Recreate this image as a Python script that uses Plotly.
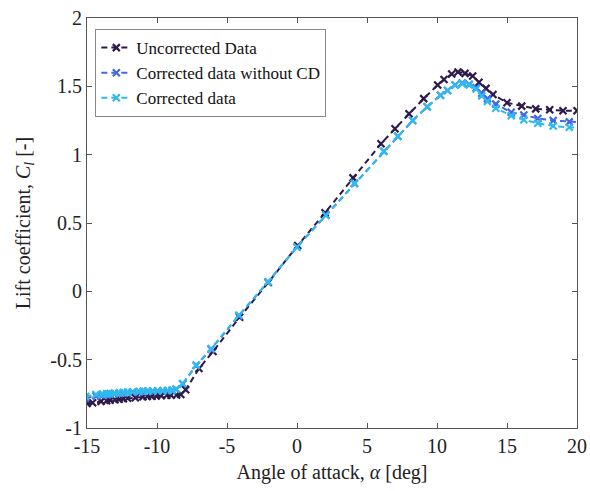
import plotly.graph_objects as go

# ---- data ----
alpha_uncorr = [-15.0, -14.6, -14.0, -13.6, -13.35, -13.0, -12.7, -12.4, -12.1, -11.55,
                -11.0, -10.7, -10.35, -10.05, -9.7, -9.3, -9.0, -8.6, -8.3, -7.95,
                -7.0, -6.0, -4.1, -2.05, 0.05, 2.0, 4.0, 6.0, 7.0, 8.0,
                9.05, 10.05, 10.5, 11.05, 11.5, 12.0, 12.55, 13.0, 13.5, 14.0,
                15.0, 16.05, 17.05, 18.05, 19.0, 20.0]
cl_uncorr = [-0.82, -0.815, -0.805, -0.80, -0.797, -0.793, -0.79, -0.785, -0.782, -0.778,
             -0.772, -0.77, -0.768, -0.765, -0.763, -0.761, -0.76, -0.758, -0.755, -0.72,
             -0.565, -0.44, -0.19, 0.065, 0.335, 0.575, 0.83, 1.08, 1.19, 1.30,
             1.41, 1.51, 1.55, 1.59, 1.605, 1.595, 1.575, 1.53, 1.485, 1.44,
             1.38, 1.355, 1.335, 1.328, 1.322, 1.322]

alpha_corr = [-15.1, -14.36, -13.88, -13.6, -13.36, -13.05, -12.7, -12.4, -12.1, -11.74,
              -11.26, -10.98, -10.66, -10.31, -9.95, -9.59, -9.24, -8.93, -8.64, -8.16,
              -7.2, -6.14, -4.15, -2.07, 0.0, 2.07, 4.1, 6.2, 7.2, 8.26,
              9.3, 10.25, 10.76, 11.3, 11.8, 12.3, 12.8, 13.2, 13.6, 14.2,
              15.3, 16.2, 17.2, 18.3, 19.45, 20.5]
cl_corr_nocd = [-0.78, -0.765, -0.76, -0.757, -0.754, -0.75, -0.747, -0.744, -0.741, -0.738,
                -0.735, -0.733, -0.732, -0.731, -0.73, -0.729, -0.728, -0.726, -0.717, -0.678,
                -0.543, -0.423, -0.178, 0.068, 0.325, 0.557, 0.79, 1.025, 1.135, 1.25,
                1.35, 1.435, 1.47, 1.51, 1.525, 1.515, 1.49, 1.45, 1.41, 1.37,
                1.31, 1.29, 1.265, 1.25, 1.24, 1.235]
cl_corr = [-0.77, -0.755, -0.752, -0.75, -0.748, -0.745, -0.742, -0.74, -0.738, -0.735,
           -0.733, -0.731, -0.73, -0.729, -0.728, -0.727, -0.726, -0.724, -0.715, -0.675,
           -0.54, -0.42, -0.175, 0.07, 0.325, 0.557, 0.79, 1.025, 1.135, 1.25,
           1.35, 1.435, 1.47, 1.51, 1.52, 1.51, 1.48, 1.43, 1.39, 1.34,
           1.285, 1.255, 1.23, 1.21, 1.20, 1.195]

x_ticks = [-15, -10, -5, 0, 5, 10, 15, 20]
y_ticks = [-1, -0.5, 0, 0.5, 1, 1.5, 2]
y_ticklabels = ["-1", "-0.5", "0", "0.5", "1", "1.5", "2"]

names = ["Uncorrected Data", "Corrected data without CD", "Corrected data"]
colors = ["#2e1a4a", "#4466e4", "#2fbaef"]

FONT = "Liberation Serif"
AX = "#555555"
TXT = "#222222"

fig = go.Figure()
for xs, ys, name, col in [(alpha_uncorr, cl_uncorr, names[0], colors[0]),
                          (alpha_corr, cl_corr_nocd, names[1], colors[1]),
                          (alpha_corr, cl_corr, names[2], colors[2])]:
    fig.add_trace(go.Scatter(
        x=xs, y=ys, name=name, mode="lines+markers",
        line=dict(color=col, width=2, dash="6px,4px"),
        marker=dict(symbol="x-thin", size=7, line=dict(color=col, width=2.2)),
    ))

axis_common = dict(
    showline=True, linecolor=AX, linewidth=1, mirror="ticks",
    ticks="inside", ticklen=5, tickcolor=AX, tickwidth=1,
    showgrid=False, zeroline=False, automargin=False,
    tickfont=dict(family=FONT, size=20, color=TXT),
)

fig.update_xaxes(range=[-15, 20], tickvals=x_ticks,
                 ticktext=[str(v) for v in x_ticks],
                 title=dict(text="Angle of attack, <i>α</i> [deg]",
                            font=dict(family=FONT, size=20, color=TXT), standoff=8),
                 **axis_common)
fig.update_yaxes(range=[-1, 2], tickvals=y_ticks, ticktext=y_ticklabels,
                 title=dict(text="Lift coefficient, <i>C<sub>l</sub></i> [-]",
                            font=dict(family=FONT, size=20, color=TXT), standoff=14),
                 **axis_common)

fig.update_layout(
    width=590, height=491,
    margin=dict(l=86.5, r=13, t=18, b=63),
    paper_bgcolor="white", plot_bgcolor="white",
    showlegend=True,
    legend=dict(x=0.017, y=0.973, xanchor="left", yanchor="top",
                bgcolor="white", bordercolor="#888888", borderwidth=1,
                font=dict(family=FONT, size=17, color="#111111"),
                tracegroupgap=0, itemwidth=30),
)

fig.write_html("out.html")
